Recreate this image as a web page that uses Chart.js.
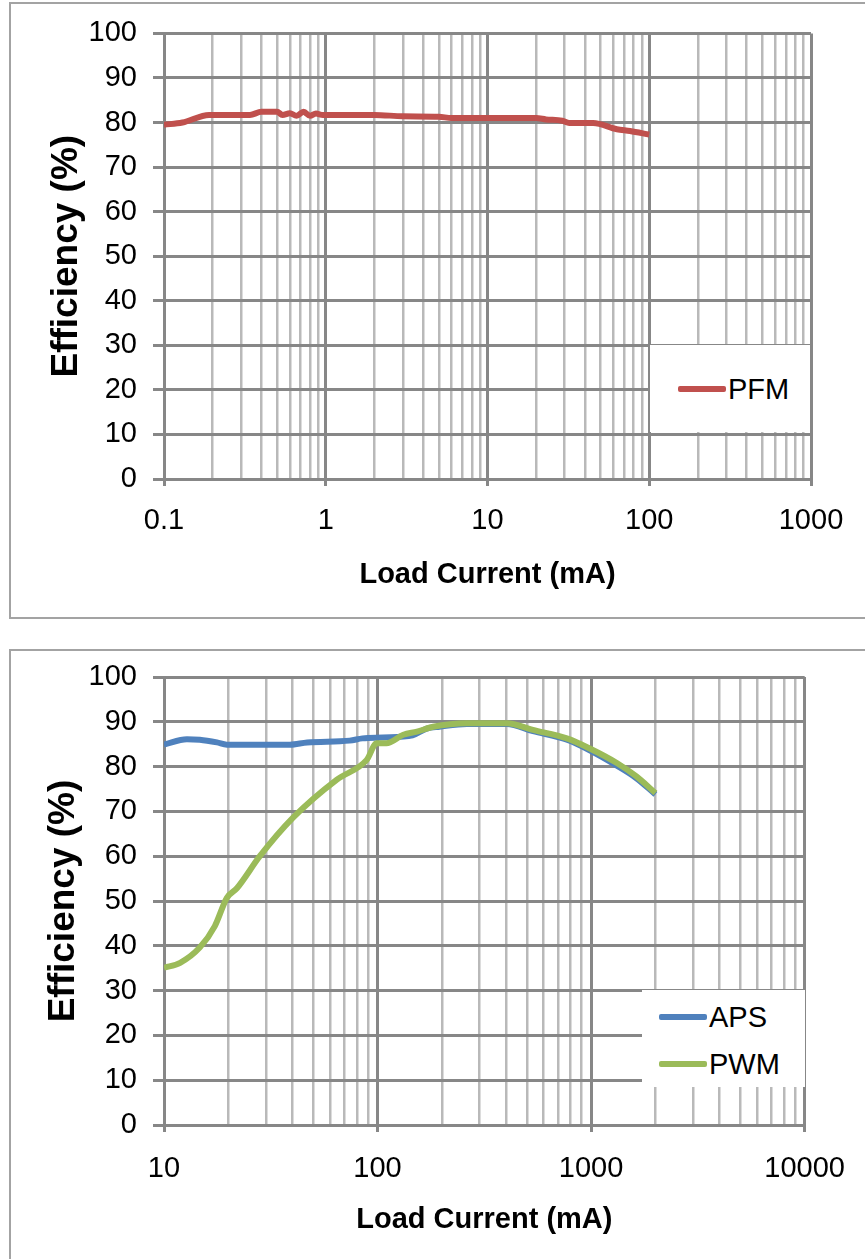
<!DOCTYPE html>
<html>
<head>
<meta charset="utf-8">
<script src="https://cdn.jsdelivr.net/npm/chart.js@4.4.1/dist/chart.umd.min.js"></script>
<style>
  html, body { margin: 0; padding: 0; background: #fff; }
  body { width: 865px; height: 1259px; position: relative; overflow: hidden; font-family: "Liberation Sans", Arial, sans-serif; }
  .box { position: absolute; border: 2px solid #a3a3a3; box-sizing: border-box; }
  canvas { position: absolute; left: 0; }
  .legend { position: absolute; background: #fff; }
  .legend .item { position: absolute; left: 0; height: 40px; }
  .legend .swatch { position: absolute; height: 6px; width: 48px; border-radius: 2px; }
  .legend .text { position: absolute; font-size: 29px; line-height: 40px; color: #000; white-space: nowrap; }
</style>
</head>
<body>
<div class="box" style="left:9px; top:2px; width:880px; height:617px;"></div>
<div class="box" style="left:9px; top:649px; width:880px; height:640px;"></div>

<div style="position:absolute; left:0; top:0; width:865px; height:617px;">
  <canvas id="chart1"></canvas>
  <div id="legend1" class="legend" style="left:650px; top:345px; width:160px; height:87px;"></div>
</div>
<div style="position:absolute; left:0; top:630px; width:865px; height:629px;">
  <canvas id="chart2"></canvas>
  <div id="legend2" class="legend" style="left:642px; top:360px; width:163px; height:97px;"></div>
</div>

<script>
// top chart: PFM mode
const pfmCurrent = [0.1, 0.13, 0.19, 0.34, 0.40, 0.50, 0.54, 0.60, 0.66, 0.73, 0.80, 0.87, 0.96, 2.0, 3.0, 5.0, 6.0, 20, 23, 29, 32, 45, 63, 76, 100];
const pfmEff = [79.5, 80.0, 81.7, 81.7, 82.4, 82.4, 81.7, 82.1, 81.5, 82.4, 81.5, 82.0, 81.7, 81.7, 81.4, 81.3, 81.0, 81.0, 80.7, 80.4, 79.9, 79.9, 78.5, 78.1, 77.3];

// bottom chart: APS and PWM modes
const apsCurrent = [10, 12.8, 14.7, 17.7, 19.7, 38.9, 46.8, 74, 85, 106, 146, 170, 195, 262, 403, 534, 770, 980, 1320, 1630, 2000];
const apsEff = [84.9, 86.1, 86.0, 85.4, 84.9, 84.9, 85.4, 85.8, 86.3, 86.5, 87.0, 88.5, 88.9, 89.5, 89.5, 87.9, 86.0, 83.7, 80.2, 77.4, 73.8];
const pwmCurrent = [10, 11.9, 14.7, 17.3, 19.7, 22, 28.1, 40.2, 64.5, 89, 99, 110, 132, 153, 182, 262, 403, 534, 770, 980, 1320, 1630, 2000];
const pwmEff = [35.1, 36.2, 39.6, 44.4, 50.7, 52.9, 60.0, 68.6, 77.1, 81.5, 85.2, 85.2, 87.1, 87.8, 88.9, 89.7, 89.7, 88.2, 86.3, 84.1, 80.8, 77.8, 74.1];

const decades1 = [0.1, 1, 10, 100, 1000];
const decades2 = [10, 100, 1000, 10000];
const multipliers = [1, 2, 3, 4, 5, 6, 7, 8, 9];

const MAJOR = '#878787';
const MINOR = '#b9b9b9';
const FONT = "'Liberation Sans', Arial, sans-serif";

function points(xs, ys) {
  return xs.map((x, i) => ({x: x, y: ys[i]}));
}

function isDecade(v) {
  const l = Math.log10(v);
  return Math.abs(l - Math.round(l)) < 1e-9;
}

function logTicks(decades) {
  const t = [];
  decades.forEach((d, i) => {
    if (i === decades.length - 1) { t.push(d); return; }
    multipliers.forEach(m => t.push(Number((d * m).toPrecision(6))));
  });
  return t;
}

function makeChart(id, datasets, o) {
  const ticks = logTicks(o.decades);
  const canvas = document.getElementById(id);
  canvas.width = 865;
  canvas.height = o.height;
  return new Chart(canvas, {
    type: 'line',
    data: {datasets: datasets},
    options: {
      responsive: false,
      animation: false,
      devicePixelRatio: 1,
      layout: {padding: {left: 0, top: o.top, right: o.right, bottom: 0}},
      plugins: {legend: {display: false}, tooltip: {enabled: false}},
      elements: {point: {radius: 0}, line: {borderWidth: 6, cubicInterpolationMode: 'monotone'}},
      scales: {
        x: {
          type: 'logarithmic',
          min: o.decades[0],
          max: o.decades[o.decades.length - 1],
          afterBuildTicks: s => { s.ticks = ticks.map(v => ({value: v, major: isDecade(v)})); },
          afterFit: s => { s.height = o.xHeight; },
          grid: {
            color: c => (c.tick && isDecade(c.tick.value)) ? MAJOR : MINOR,
            lineWidth: c => (c.tick && isDecade(c.tick.value)) ? 3 : 2.5,
            tickColor: c => (c.tick && isDecade(c.tick.value)) ? MAJOR : 'rgba(0,0,0,0)',
            tickLength: 7,
          },
          border: {color: MAJOR, width: 3},
          ticks: {
            autoSkip: false, maxRotation: 0, padding: o.xPad,
            color: '#000', font: {family: FONT, size: 29},
            callback: v => isDecade(v) ? String(Number(v.toPrecision(6))) : ''
          },
          title: {
            display: true, text: 'Load Current (mA)', color: '#000',
            font: {family: FONT, size: 29, weight: 'bold'},
            padding: {top: 0, bottom: o.xTitlePad}
          }
        },
        y: {
          min: 0, max: 100,
          afterFit: s => { s.width = 164; },
          grid: {color: MAJOR, lineWidth: 3, tickLength: 11},
          border: {color: MAJOR, width: 3},
          ticks: {stepSize: 10, padding: 16, color: '#000', font: {family: FONT, size: 29}},
          title: {
            display: true, text: 'Efficiency (%)', color: '#000',
            font: {family: FONT, size: 37, weight: 'bold'},
            padding: {top: o.yTitlePad, bottom: 0}
          }
        }
      }
    }
  });
}

function htmlLegend(chart, id, firstY, step) {
  const el = document.getElementById(id);
  chart.data.datasets.forEach((ds, i) => {
    const item = document.createElement('div');
    item.className = 'item';
    item.style.top = (firstY + i * step - 20) + 'px';
    const sw = document.createElement('div');
    sw.className = 'swatch';
    sw.style.background = ds.borderColor;
    sw.style.left = ds.swatchLeft + 'px';
    sw.style.top = '17px';
    const tx = document.createElement('div');
    tx.className = 'text';
    tx.style.left = (ds.swatchLeft + 50) + 'px';
    tx.textContent = ds.label;
    item.appendChild(sw);
    item.appendChild(tx);
    el.appendChild(item);
  });
}

const chart1 = makeChart('chart1', [
  {label: 'PFM', data: points(pfmCurrent, pfmEff), borderColor: '#c0504d', swatchLeft: 28}
], {decades: decades1, height: 617, top: 31, right: 54, xHeight: 138, xPad: 18, xTitlePad: 25, yTitlePad: 45});

// PWM drawn on top of APS (lower order is drawn last)
const chart2 = makeChart('chart2', [
  {label: 'APS', data: points(apsCurrent, apsEff), borderColor: '#4f81bd', swatchLeft: 17, order: 2},
  {label: 'PWM', data: points(pwmCurrent, pwmEff), borderColor: '#9bbb59', swatchLeft: 17, order: 1}
], {decades: decades2, height: 629, top: 47, right: 60, xHeight: 134, xPad: 20, xTitlePad: 22, yTitlePad: 42});

htmlLegend(chart1, 'legend1', 44, 0);
htmlLegend(chart2, 'legend2', 27, 47);
</script>
</body>
</html>
